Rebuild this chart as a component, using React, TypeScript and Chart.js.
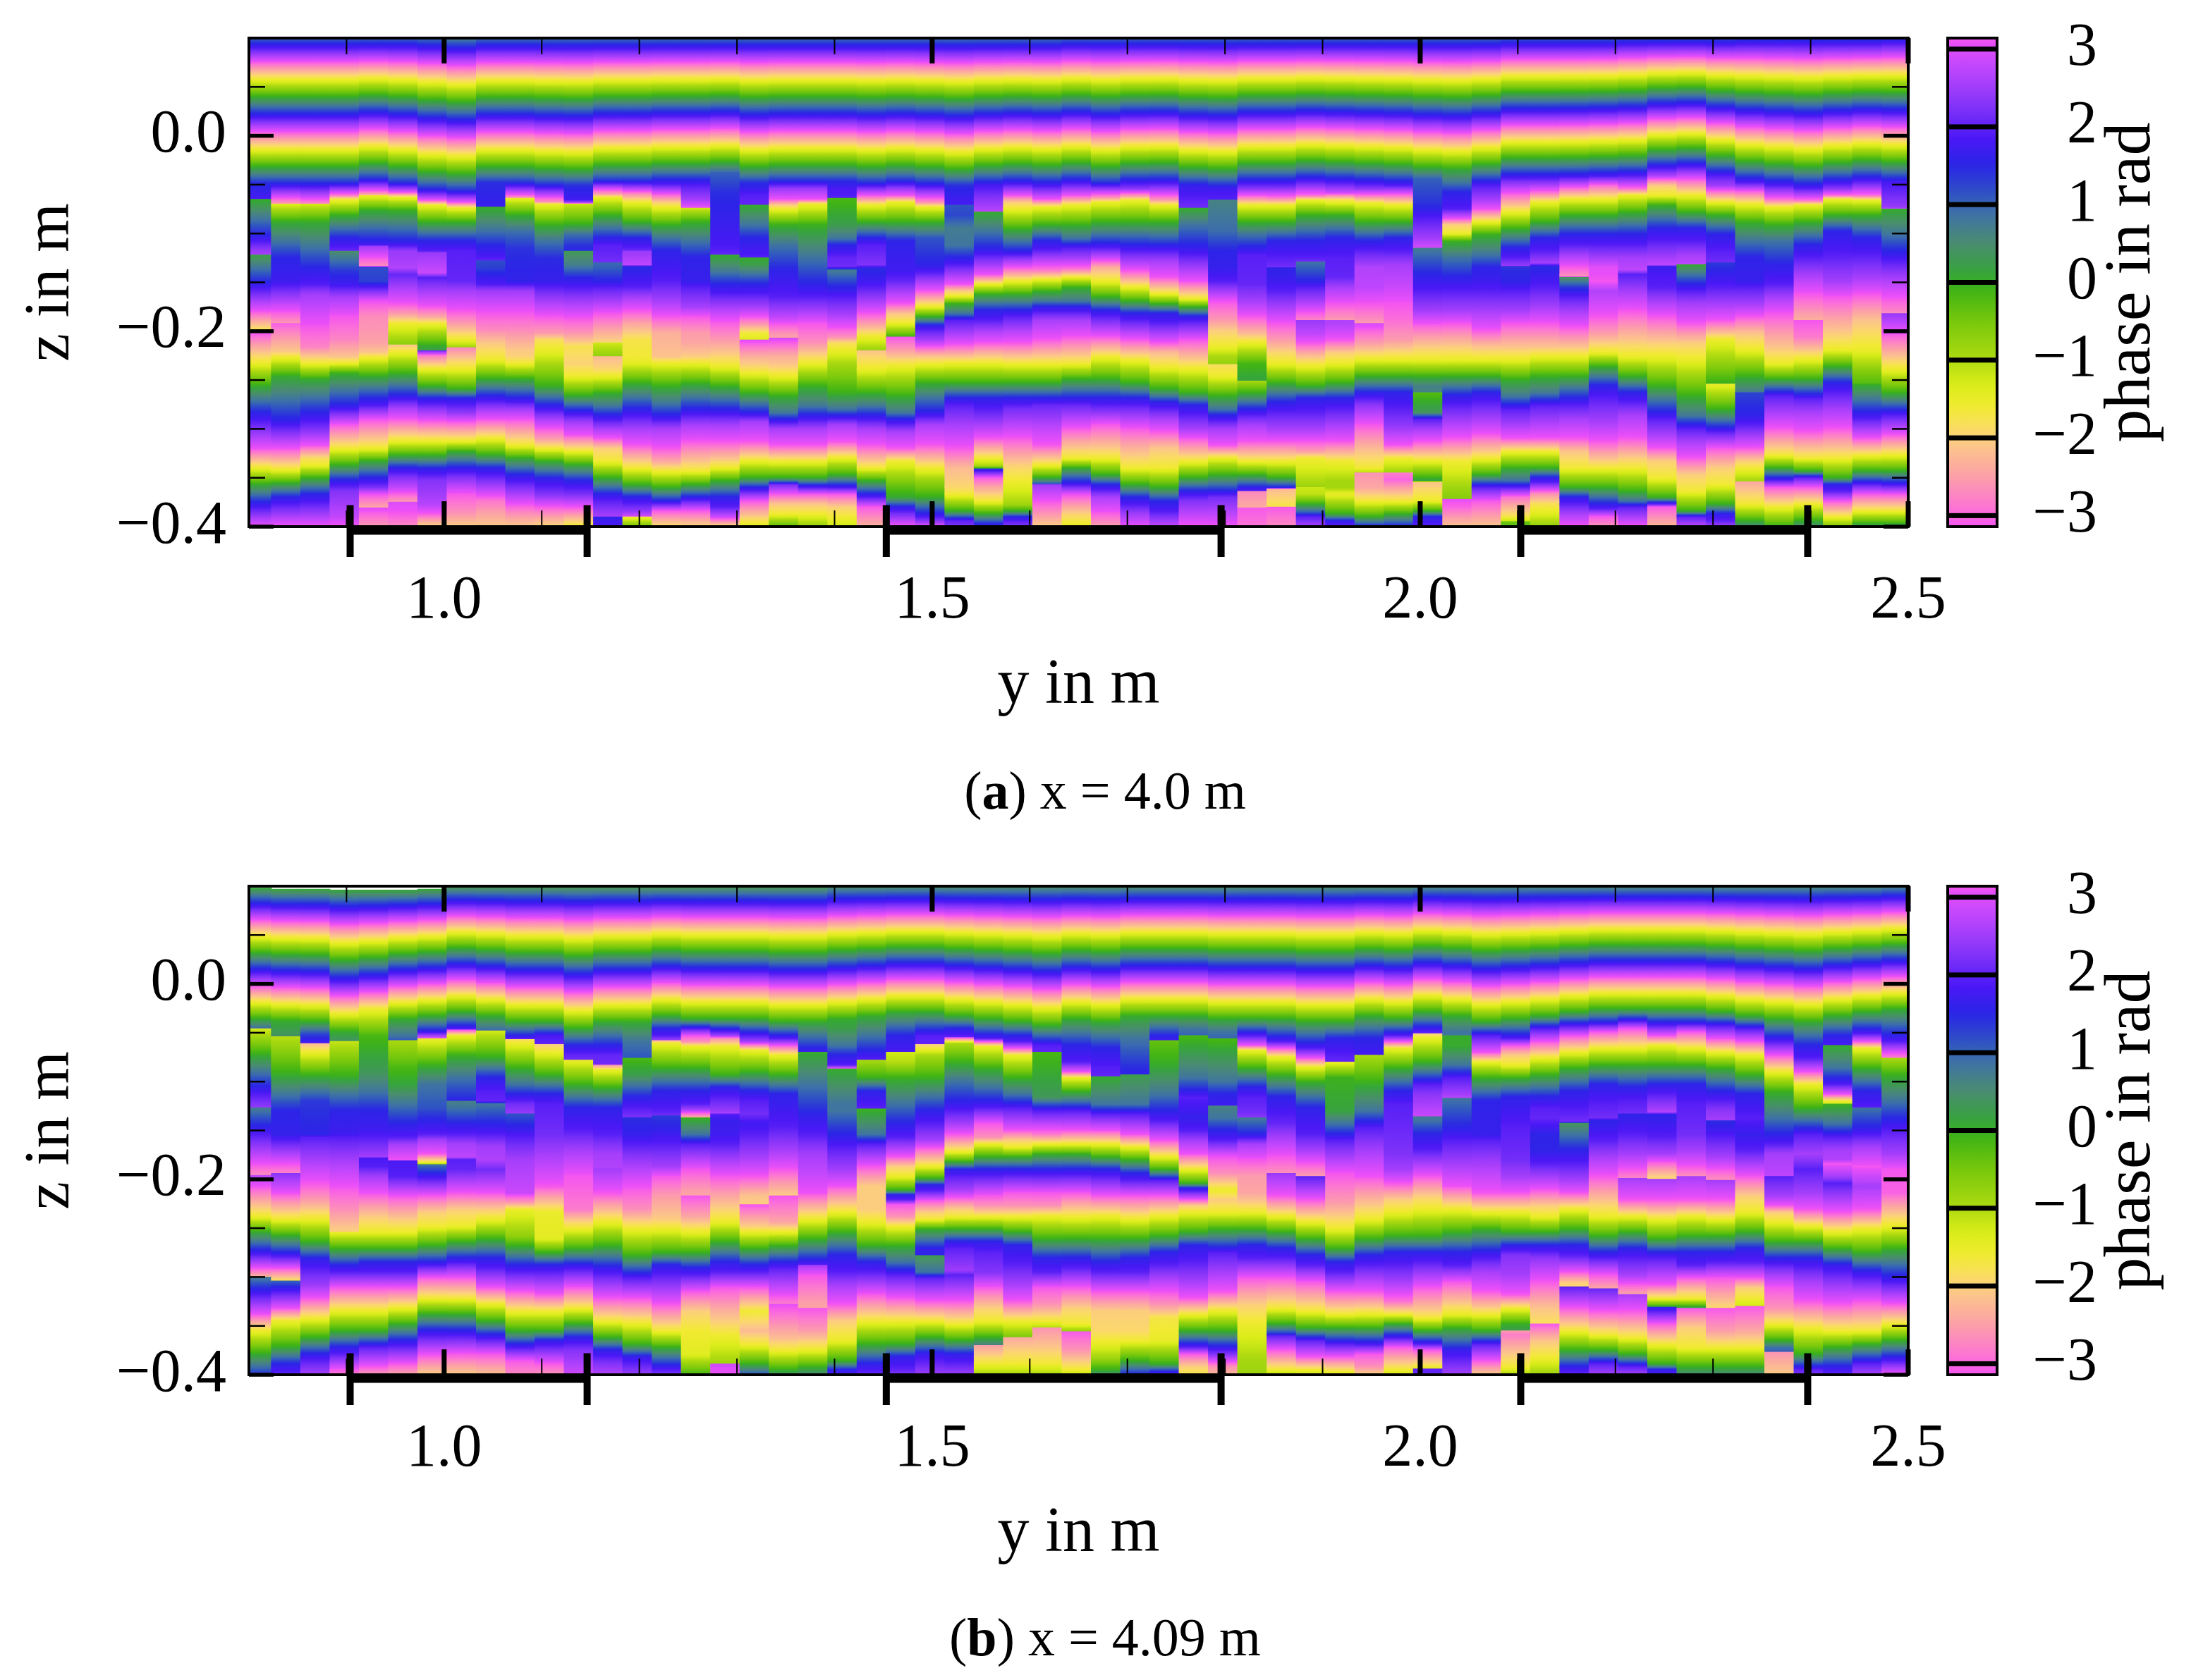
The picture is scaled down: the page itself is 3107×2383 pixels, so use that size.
import { useEffect, useRef } from 'react'
import Chart from 'chart.js/auto'

const FONT = 'Liberation Serif'

// column centres along y, in m
const yColumns = [
  0.808, 0.838, 0.868, 0.898, 0.928, 0.958, 0.988, 1.018, 1.048, 1.078, 1.108, 1.138, 1.168, 1.198, 1.228, 1.258, 1.288, 1.318, 1.348,
  1.378, 1.408, 1.438, 1.468, 1.498, 1.528, 1.558, 1.588, 1.618, 1.648, 1.678, 1.708, 1.738, 1.768, 1.798, 1.828, 1.858, 1.888, 1.918,
  1.948, 1.978, 2.008, 2.038, 2.068, 2.098, 2.128, 2.158, 2.188, 2.218, 2.248, 2.278, 2.308, 2.338, 2.368, 2.398, 2.428, 2.458, 2.488,
]

// one row per column: z in mm, phase in rad, z, phase, ...
// phase is unwrapped down a column so one ramp can run through several cycles, a repeated z is a jump
const phaseA = [
  [100,1,-48,14,-65,14.4,-65,0,-101,1.5,-117,2.4,-122,2.6,-122,0.2,-149,1.5,-179,3.1,-201,4.7,-201,3.1,-232,4.7,-256,6.3,-283,7.8,-320,9.4,-340,11,-357,12.6,-375,14.1,-400,15.7],
  [100,1,-48,14,-70,16.4,-70,4.9,-88,6.3,-125,7.8,-149,8,-179,9.4,-192,10,-192,9.5,-221,10.5,-227,11,-246,12.6,-290,14.1,-320,15.7,-342,17.3,-355,18.8,-370,20.4,-400,22],
  [100,1,-48,14,-70,16.2,-70,5,-88,6.3,-135,7.8,-152,8.2,-162,8.8,-192,9.4,-216,9.8,-226,10.5,-233,11,-249,12.6,-283,14.1,-300,14.8,-317,15.7,-330,17,-337,17.3,-350,18.8,-367,20.4,-380,21,-400,22],
  [100,1,-48,14,-61,16,-65,17.2,-81,18.8,-105,20.4,-115,20.8,-118,20.9,-118,19.3,-138,20.2,-152,20.6,-165,21.4,-185,22,-209,22.4,-226,23,-233,23.6,-243,25.1,-276,26.7,-296,28.3,-320,29.8,-337,31.4,-353,33,-364,33.7,-390,34.2,-400,34.6],
  [100,1,-44,14,-56,15.7,-61,16.6,-61,-1.6,-76,0,-112,1.8,-113,2.5,-133,3.6,-135,1.2,-149,1.3,-155,1.9,-169,3.1,-185,3.6,-212,3.8,-222,4.2,-227,4.7,-246,6.3,-269,7.8,-276,8.2,-290,9.4,-320,11,-333,12.6,-350,14.1,-360,14.8,-367,15.7,-380,16.4,-381,15.6,-400,16.3],
  [100,1,-48,14,-58,15.7,-63,17.3,-76,18.8,-108,20.4,-112,20.7,-118,21.3,-135,21.5,-142,20.9,-155,21.4,-172,22,-182,22.6,-193,23.6,-212,24.4,-214,24.4,-214,23,-222,23.6,-243,25.1,-266,26.7,-279,27.7,-290,28.3,-313,29.9,-327,31.4,-340,33,-350,33.7,-360,34.2,-375,35.2,-375,34.4,-387,34.6,-400,35],
  [100,0.9,-54,14,-66,15.7,-71,17.3,-88,18.8,-108,20.4,-118,20.8,-120,21.3,-140,21.7,-145,20.8,-159,21.4,-175,22,-185,22.7,-193,23.6,-214,25.1,-220,25.4,-220,21,-225,22.3,-239,23.6,-256,25.1,-269,26.7,-280,27.5,-292,28.3,-313,29.9,-327,31.4,-341,33,-353,33.7,-377,34.1,-387,34.6,-400,35.8],
  [100,0.7,-56,14,-68,15.7,-74,17.3,-88,18.8,-108,20.4,-118,20.8,-149,20.9,-159,21.4,-179,22,-192,22.6,-209,23.6,-217,24.3,-217,22.4,-229,23.1,-239,23.6,-259,25.1,-269,26.7,-283,27.5,-293,28.3,-313,29.9,-323,31.4,-340,33,-350,33.7,-367,34.6,-387,35.1,-400,35.7],
  [100,0.9,-48,14,-70,14.2,-73,14.3,-73,0,-98,0.9,-112,1.5,-125,1.9,-128,2,-128,1.2,-135,1.3,-152,1.9,-159,2.5,-179,3.1,-199,3.6,-212,4.2,-229,4.7,-249,6.3,-266,7.8,-280,8.8,-290,9.4,-310,11,-327,12.6,-340,14.1,-353,14.8,-374,16,-400,16.8],
  [100,0.9,-48,14,-61,15.8,-64,16.4,-64,-1.5,-81,0,-98,0.9,-115,1.4,-149,1.6,-159,2.5,-179,3.1,-199,3.6,-219,4.2,-226,4.3,-233,4.7,-249,6.3,-268,7.8,-280,8.8,-290,9.4,-317,11,-330,12.6,-347,14.1,-360,14.8,-377,15.7,-387,16.2,-400,16.8],
  [100,0.9,-50,14,-68,16.3,-70,17.3,-91,18.8,-108,19.7,-125,20.3,-149,20.5,-155,20.8,-169,21.4,-185,22,-202,22.6,-209,23.3,-222,23.7,-256,25.1,-276,26.7,-290,27.7,-300,28.3,-310,28.9,-320,29.8,-333,31.4,-351,33,-367,33.7,-380,34.6,-400,35.8],
  [100,0.9,-51,14,-65,14.3,-68,15,-70,16.5,-70,-1.2,-91,0,-101,0.9,-112,1.4,-118,1.5,-118,0.3,-132,0.7,-145,1.5,-155,1.9,-169,2.5,-185,3.1,-202,3.7,-216,4.5,-233,4.3,-246,4.7,-266,6.3,-281,7.8,-293,8.8,-306,9.4,-323,11,-337,12.6,-353,14.1,-367,14.8,-384,16,-400,17.3],
  [100,0.9,-46,14,-54,15.5,-60,16.4,-63,17.3,-81,18.8,-105,20.4,-112,20.8,-130,21,-130,19.8,-135,19.9,-149,20.4,-155,20.8,-169,21.4,-182,22,-199,22.7,-212,23.2,-212,23.9,-226,24.4,-226,22.9,-239,23.2,-246,23.6,-263,25.1,-276,25.9,-286,26.7,-300,27.7,-310,28.3,-320,29.4,-333,29.8,-350,31.4,-367,33,-374,33.4,-390,34,-390,33,-400,33.3],
  [100,0.9,-46,14,-60,16.2,-68,17.3,-88,18.8,-105,20.4,-115,20.8,-118,21,-118,21.3,-132,21.6,-134,20.3,-142,20.5,-155,20.8,-165,21.4,-179,22,-192,22.7,-209,23.4,-226,23.5,-233,23.7,-253,25.1,-280,26.7,-300,27.7,-317,28.3,-327,29,-340,29.8,-357,31.4,-370,33,-384,33.8,-390,34.4,-390,29.8,-400,31],
  [100,0.9,-44,14,-50,14.5,-58,15.5,-68,16.8,-73,17.3,-91,18.8,-105,19.7,-118,20.4,-149,20.8,-169,21.4,-185,22,-202,22.8,-226,23,-233,23.6,-256,25.1,-273,25.9,-286,26.7,-300,27.7,-320,28.3,-333,29,-343,29.8,-360,31.4,-374,33,-384,34.6,-400,35.9],
  [100,0.9,-44,14,-51,14.5,-65,15.1,-74,15.7,-74,17.6,-88,18.8,-108,19.7,-125,20.4,-149,20.5,-155,20.8,-175,21.4,-185,22,-202,22.6,-212,22.7,-226,23.1,-233,23.6,-253,25.1,-280,26.7,-296,27.7,-313,28.3,-327,29,-343,29.8,-357,31.4,-370,33,-384,34.6,-400,35.8],
  [100,0.9,-38,13.6,-58,14,-112,14.4,-122,14.6,-122,12.6,-138,13.3,-152,14.1,-162,14.5,-175,15.1,-189,15.7,-209,16.3,-226,16.9,-236,17.3,-256,18.8,-280,20.4,-296,21.4,-313,22,-327,22.8,-340,23.6,-353,25.1,-370,26.7,-380,27.1,-390,28,-400,29.6],
  [100,0.9,-48,14,-61,14.5,-68,14.6,-71,14.6,-71,12.6,-91,13.4,-105,14.1,-125,14.5,-125,12.6,-132,12.8,-152,14.1,-162,14.5,-175,15.1,-185,15.7,-192,16.2,-202,17.2,-209,17.5,-209,15.6,-228,16.6,-236,16.9,-243,17.3,-263,18.8,-283,20.4,-293,21.4,-313,22,-333,23.6,-350,25.1,-360,26.7,-374,28.3,-384,29,-396,29.8,-400,30],
  [100,0.9,-46,14,-54,15,-65,15.7,-71,16.8,-75,17.3,-91,18.8,-112,19.7,-138,20.4,-165,20.8,-185,21.6,-202,22.5,-207,22.7,-207,21.8,-226,22.8,-236,23.1,-246,23.6,-266,25.1,-283,25.9,-290,26.7,-300,27.7,-317,28.3,-333,29.8,-350,31.4,-355,32.8,-357,33.6,-367,34.6,-377,35.6,-387,36.1,-400,37.5],
  [100,0.9,-46,14,-54,15,-65,15.7,-70,17.3,-75,17.6,-91,18.8,-125,19.7,-152,20.4,-165,20.8,-179,21.4,-192,22,-212,22.5,-233,23.6,-256,25.1,-276,25.9,-286,26.7,-300,27.7,-317,28.3,-333,29.8,-350,31.4,-358,33,-367,34.6,-377,35.6,-387,36.1,-400,37],
  [100,0.9,-46,14,-54,14.4,-64,14.5,-64,12.4,-91,12.8,-105,13.4,-112,14.1,-125,14.6,-134,14.7,-138,13.3,-155,14.1,-165,14.5,-182,15.1,-196,15.7,-206,16.2,-212,17,-233,17.9,-263,18.8,-280,19.7,-286,20.4,-296,21.4,-313,22,-330,23.6,-347,25.1,-360,27,-367,28.3,-380,29.4,-390,29.8,-400,30.2],
  [100,0.9,-48,14,-54,14.8,-61,15.7,-71,17.3,-88,18.8,-105,20.4,-112,20.8,-125,21,-132,21.1,-136,20.3,-149,20.6,-155,20.8,-169,21.4,-182,22,-192,22.6,-206,23.6,-219,24.3,-220,24.4,-220,23,-239,23.6,-263,25.1,-276,25.9,-286,26.7,-300,27.7,-317,28.3,-340,29.8,-353,31.4,-367,33,-380,34.6,-400,35.4],
  [100,0.9,-46,14,-54,15,-61,15.7,-68,17.3,-88,18.8,-108,20.4,-138,20.6,-149,20.9,-159,21.4,-172,22,-182,23,-192,23.6,-206,25.1,-206,22,-219,22.6,-236,23.6,-266,25.1,-283,25.9,-290,26.7,-303,27.7,-320,28.3,-333,29.8,-357,31,-370,31.5,-380,33,-387,33.6,-400,34.6],
  [100,0.9,-48,14,-58,15.1,-68,16.2,-73,17.3,-88,18.8,-105,20,-132,20.4,-140,20.8,-149,21.4,-159,22,-169,23,-175,23.6,-185,25.1,-194,26.7,-199,27.1,-209,27.7,-216,28.3,-226,29.3,-233,29.8,-253,31.4,-269,32.3,-283,33,-296,34,-317,34.6,-340,36.1,-353,36.9,-370,37.7,-379,38.6,-387,39.3,-394,40,-400,40.8],
  [100,0.9,-51,14,-71,14.4,-71,13.7,-81,13.8,-95,13.3,-112,13.4,-125,14.1,-132,14.5,-142,15.1,-152,15.7,-159,16.8,-164,17.3,-172,18.8,-182,19.7,-189,20.8,-202,21.4,-214,22,-226,23,-233,23.6,-253,25.1,-269,26.7,-276,27.1,-296,27.7,-320,28.3,-340,29.2,-360,29.5,-367,29.8,-384,31.4,-394,33.4,-400,33.7],
  [100,0.9,-51,14.4,-65,14.9,-75,15.2,-78,15.3,-78,12.6,-98,13.4,-115,14.1,-122,14.5,-132,15.1,-142,15.7,-152,17.3,-162,18.8,-179,20.4,-189,20.8,-199,21.4,-212,22,-222,22.8,-233,23.6,-253,25.1,-269,26.7,-286,27.3,-310,28.3,-330,29.8,-338,30.5,-341,31.8,-341,32.9,-350,34.6,-360,35.3,-374,36.1,-387,37.7,-397,39.2,-400,39.5],
  [100,0.9,-48,14.3,-61,15.7,-68,16.8,-75,17.3,-95,18.8,-108,19.7,-118,20.4,-128,21.4,-135,22,-149,23.6,-162,25.1,-179,26.7,-185,27.1,-202,27.9,-212,28.3,-233,29.8,-253,31.4,-269,33,-280,33.6,-310,34.6,-337,35.7,-353,36.1,-377,36.8,-384,37.7,-390,39.2,-395,39.7,-400,40],
  [100,0.9,-51,14.4,-65,15.7,-73,17.3,-91,18.8,-108,20.4,-117,20.8,-125,21.4,-138,22.3,-147,23.6,-159,25.1,-169,25.9,-175,26.7,-189,27.7,-209,28.3,-233,29.8,-253,31.4,-269,33,-276,33.5,-300,34.2,-317,34.6,-337,36.1,-350,37.7,-357,39,-357,33.9,-387,35.1,-400,35.7],
  [100,1,-48,14.4,-61,15.7,-71,17.3,-91,18.8,-105,19.7,-115,20.8,-125,21.4,-136,22.2,-145,23.6,-155,25.1,-169,25.9,-175,26.7,-189,27.7,-206,28.3,-233,29.8,-249,31.4,-269,33,-276,33.5,-300,34.6,-323,35.8,-330,36.1,-340,37.7,-348,38.6,-354,39.2,-367,40.8,-387,42,-397,42.4,-400,42.6],
  [100,1,-48,14,-54,14.9,-63,16.2,-68,17.3,-88,18.8,-101,19.7,-115,20.8,-128,22,-135,22.8,-149,23.6,-165,25.1,-179,26.7,-185,27.1,-206,28.3,-226,29.8,-249,31.4,-269,33,-280,33.6,-296,34.6,-310,35.2,-330,36.1,-347,37.7,-357,39.2,-362,39.6,-370,40.3,-384,40.8,-400,41.5],
  [100,1,-54,14.9,-61,16.2,-66,17.3,-88,18.8,-101,19.7,-118,20.8,-128,21.4,-138,22,-149,23,-155,23.6,-169,25.1,-182,26.7,-189,27.1,-209,28.3,-229,29.8,-253,31.4,-269,33,-280,33.6,-300,34.6,-320,35.4,-340,36.1,-357,37.7,-370,39.2,-377,39.6,-387,40.2,-400,40.8],
  [100,1,-48,14.4,-54,15,-65,16.2,-71,17.3,-88,18.8,-105,19.9,-118,20.8,-128,21.4,-145,22,-162,23.6,-172,25.1,-182,26.7,-192,27.1,-212,28.3,-222,29.2,-236,29.8,-259,31.4,-273,33,-283,33.6,-290,34,-303,34.6,-320,35.6,-340,36.1,-360,37.7,-374,39.2,-384,39.6,-394,40.2,-400,40.5],
  [100,1,-51,14.2,-68,14.6,-74,14.7,-74,12.6,-91,13.4,-112,14.1,-122,14.5,-135,15.1,-149,15.7,-167,17.3,-175,18.8,-185,20.4,-190,20.8,-209,22,-222,22.7,-239,23.6,-263,25.1,-276,26.7,-286,27.1,-300,27.7,-310,28.3,-333,29.8,-350,31.4,-364,33,-374,33.7,-400,34.6],
  [100,1,-54,14.3,-65,14.5,-66,13.2,-98,13.5,-118,14.1,-135,14.2,-149,14.5,-169,15.7,-189,16.3,-199,16.8,-216,17.3,-226,17.9,-234,18.1,-234,17,-246,17.3,-266,18.8,-280,19.7,-286,20.4,-300,21.4,-317,22,-330,23.6,-347,25.1,-364,26.7,-370,27.3,-400,28.3],
  [100,1,-54,14.9,-61,15.7,-71,17.3,-88,18.8,-101,19.7,-122,20.8,-152,20.9,-169,21.4,-185,22,-202,22.9,-212,23.6,-233,25,-251,25.3,-251,24.2,-263,25.1,-280,26.7,-286,27.1,-296,27.7,-313,28.3,-333,29.8,-347,31.4,-360,33,-364,33.3,-364,35,-380,35.3,-381,34.6,-400,34.8],
  [100,1,-54,14.9,-63,15.9,-71,17.3,-88,18.8,-108,20.4,-125,20.8,-135,21,-135,20.4,-145,20.5,-159,20.8,-175,21.4,-192,22,-209,22.6,-222,23.2,-233,23.6,-253,25.1,-273,26.7,-283,27.1,-300,27.7,-313,28.3,-333,29.8,-350,31.4,-360,33,-362,35.5,-380,36,-380,34.6,-400,35],
  [100,1,-51,14.9,-61,15.9,-66,17.3,-81,18.8,-108,20.4,-125,20.8,-129,21,-129,19.7,-138,20,-149,20.4,-155,20.8,-169,21.4,-189,22.4,-189,21.3,-202,21.6,-212,22,-226,23,-236,23.6,-256,25.1,-269,26.7,-283,27.1,-300,27.7,-313,28.3,-323,28.9,-330,29.8,-360,30.6,-360,30.2,-367,30.3,-377,31.4,-386,32.6,-390,33.4,-400,34],
  [100,1,-58,15.4,-65,17,-81,18.8,-105,20.4,-125,20.8,-145,20.9,-155,21.4,-172,22,-189,22.6,-189,21.5,-192,21.5,-209,22,-222,23.1,-233,23.6,-253,25.1,-269,26.7,-280,27.1,-296,27.7,-313,28.3,-333,29.8,-353,30.5,-360,30.5,-367,29.9,-387,31.4,-394,33,-400,33.5],
  [100,1,-54,14.9,-61,15.9,-69,17.3,-88,18.8,-108,20.4,-122,21,-135,21.5,-155,21.6,-172,22,-189,22.5,-192,22.6,-192,21.8,-212,22.6,-229,23.6,-246,25.1,-263,26.7,-276,27.5,-296,28.3,-323,29.3,-340,29.8,-345,30.4,-345,28.8,-360,29,-374,29.8,-390,31.4,-400,33],
  [100,1,-51,14.5,-61,15.9,-71,17.3,-88,18.8,-105,20.4,-118,20.8,-132,21.4,-155,21.7,-172,22,-189,22.2,-209,22.6,-229,23.6,-246,25.1,-263,26.7,-296,27.5,-317,28.3,-330,29.8,-345,30.6,-345,28.6,-352,28.4,-374,29.8,-387,31.4,-400,33],
  [100,1,-44,13.6,-71,14,-85,14.5,-105,15.1,-115,15.5,-115,13.3,-118,13.4,-142,14.1,-159,14.5,-179,15.1,-192,15.7,-216,16.8,-229,17.3,-246,18.8,-256,19.5,-263,19.5,-263,18.6,-283,19.2,-290,20.8,-300,21.4,-313,22,-333,23.6,-350,25.1,-353,25.3,-355,23,-374,23.6,-384,25.1,-390,26.7,-400,27.1],
  [100,1,-34,12.6,-48,13.4,-58,14.1,-75,14.5,-85,15.7,-91,16.8,-100,17.3,-108,18.8,-125,19.7,-145,20.4,-159,20.8,-179,21.4,-192,22,-216,23.1,-229,23.6,-246,25.1,-266,26.7,-276,27.1,-293,27.7,-310,28.3,-333,29.8,-362,30.6,-372,30.8,-372,28.2,-380,28.4,-400,29.3],
  [100,1,-51,14.5,-65,15.1,-75,15.7,-88,17.3,-101,18.8,-122,19.7,-135,20.4,-145,20.5,-159,20.8,-179,21.4,-199,22,-216,23,-229,23.6,-246,25.1,-263,26.7,-273,27.1,-290,27.7,-306,28.3,-330,29.8,-347,31.4,-360,33.4,-374,34.6,-400,35.6],
  [100,1.1,-48,14.9,-61,15.9,-78,17.3,-95,18.8,-115,20.4,-125,20.8,-133,21.3,-134,20.2,-138,20.3,-149,20.4,-159,20.8,-179,21.4,-192,22,-216,23,-229,23.6,-249,25.1,-266,25.9,-280,27.1,-296,27.7,-310,28.3,-323,29.8,-340,31.4,-353,32.3,-360,33.4,-370,34.8,-390,36,-395,36.6,-395,31,-400,31.2],
  [100,1.1,-48,14.9,-58,15.9,-68,17.3,-88,18.8,-105,20.4,-118,20.8,-130,21.4,-134,20.3,-142,20.5,-155,20.8,-175,21.4,-192,22,-216,23,-226,23.6,-246,25.1,-263,25.9,-276,27.1,-293,27.7,-310,28.3,-323,29.8,-340,31.4,-350,33,-355,33.4,-367,35.1,-377,35.9,-387,36.3,-400,37],
  [100,1.1,-41,14.3,-54,15.9,-65,17.3,-81,18.8,-101,20.4,-112,20.8,-122,21.4,-142,22.4,-144,22.6,-145,19.2,-155,20.2,-165,20.8,-179,21.4,-196,22,-216,23,-226,23.6,-246,25.1,-269,26.7,-276,27.1,-290,27.7,-310,28.3,-323,29.3,-340,29.8,-360,31.4,-370,33,-377,33.4,-387,34,-400,34.6],
  [100,1.1,-41,14.4,-51,15.9,-65,17.3,-81,18.8,-101,20.4,-112,20.8,-125,21.4,-135,21.9,-149,22,-159,21.5,-185,22,-202,22.6,-222,23.6,-236,25.1,-256,26.7,-269,27.1,-293,27.7,-313,28.3,-340,29.8,-360,31.4,-377,33,-382,33.4,-390,34.6,-400,35.1],
  [100,1.2,-41,14.5,-54,15.9,-61,17.3,-78,18.8,-101,20.4,-112,20.8,-125,21.4,-137,21.6,-142,20.8,-159,21.4,-179,22,-202,22.8,-226,23.6,-246,25.1,-263,26.7,-273,27.1,-286,27.7,-310,28.3,-330,29.4,-340,29.8,-364,31.4,-374,32.3,-380,33.4,-390,34,-400,34.6],
  [100,1.2,-41,15.2,-51,16.8,-61,17.3,-71,18.8,-95,20.4,-108,20.8,-125,21.4,-132,21.6,-134,20.5,-142,20.7,-155,20.8,-169,21.4,-185,22,-212,23.1,-226,23.6,-256,25.1,-269,25.9,-290,27.1,-306,27.7,-320,28.3,-333,29.4,-350,29.8,-370,31.4,-377,33.4,-380,34.6,-396,35.3,-400,35.5],
  [100,1.2,-41,15.4,-61,17.3,-78,18.8,-95,20.4,-108,20.8,-122,21.4,-132,21.6,-132,18.9,-138,19.4,-152,20.4,-159,20.8,-172,21.4,-192,22,-212,23.1,-229,23.6,-266,25.1,-286,25.9,-300,27.1,-313,27.7,-330,28.3,-347,29.4,-364,29.8,-384,31.4,-390,33.4,-400,34.2],
  [100,1.2,-41,14.5,-51,15.1,-68,17.3,-81,18.8,-101,20.4,-118,20.8,-130,21,-130,20.2,-135,20.3,-155,20.8,-172,21.4,-189,22,-202,23,-209,23.6,-233,24.4,-253,25.1,-254,25.2,-254,23.6,-280,25.1,-290,25.9,-299,26.7,-303,27.1,-320,28.3,-340,29.4,-357,29.8,-377,31.4,-387,33,-394,33.4,-400,34],
  [100,1.3,-48,14.5,-58,15.9,-70,17.3,-88,18.8,-108,19.7,-125,20.4,-149,20.5,-155,20.8,-172,21.4,-185,22,-202,23,-219,23.6,-246,25.1,-263,25.9,-263,26.4,-286,26.7,-296,27.1,-320,28.3,-333,29.4,-353,30.5,-354,30.6,-354,29,-360,29.2,-377,29.8,-394,31.4,-400,32],
  [100,1.3,-51,14.5,-65,15.9,-73,17.3,-91,18.8,-108,19.7,-132,20.4,-152,20.8,-165,21.4,-182,22,-202,22.6,-222,23.2,-233,23.6,-249,25.1,-266,27.1,-283,27.7,-300,28.3,-320,29.4,-327,29.8,-340,31.4,-353,33.4,-360,34.6,-380,36.1,-400,37.7],
  [100,1.3,-54,14.5,-66,15.9,-71,17.3,-88,18.8,-112,20.4,-125,20.8,-142,21.4,-162,22,-185,22.7,-189,22.8,-189,22,-206,22.3,-212,22.6,-229,23.6,-249,25.1,-269,27.1,-283,27.7,-303,28.3,-330,29.8,-343,31.4,-350,33.4,-360,34.6,-377,36.1,-394,37.7,-400,38.2],
  [100,1.3,-54,14.9,-61,15.9,-65,17.3,-81,18.8,-98,20.4,-122,20.8,-149,21.4,-165,22,-192,22.8,-206,23.2,-219,23.6,-236,25.1,-253,26.7,-263,27.1,-280,27.7,-300,28.3,-330,29.8,-350,31.4,-357,33,-364,33.4,-374,34.6,-390,36.1,-400,37.2],
  [100,1.3,-51,14.9,-61,15.9,-66,17.3,-81,18.8,-105,20.4,-122,20.8,-145,21.4,-162,22,-189,23,-219,23.6,-243,24.6,-254,24.9,-254,25.1,-269,25.9,-290,27.1,-310,28.3,-327,29.8,-343,31.4,-357,33.4,-367,34.6,-384,36.1,-397,37.7,-400,38],
  [100,1.4,-48,14.4,-73,15,-75,15.4,-75,12.6,-101,13.4,-128,14.5,-145,15.1,-165,15.7,-180,16.1,-182,16.2,-182,15,-202,15.7,-219,16.4,-239,17.3,-263,18.8,-286,20.8,-306,22,-327,23.6,-343,25.1,-367,28.3,-384,29.8,-397,31.4,-400,31.7],
]

const phaseB = [
  [98,0.1,-36,12.6,-46,13.5,-46,5,-73,6.3,-90,7.1,-113,8.2,-127,8.7,-127,7,-154,8.2,-184,9.4,-196,9.9,-196,9,-207,9.4,-238,11,-254,12.6,-275,14.3,-291,15.7,-300,16.6,-300,7,-318,8.2,-338,9.4,-355,11,-379,12.6,-400,14],
  [97,0.1,-38,12.6,-54,13,-54,5.2,-93,6.3,-113,7.1,-130,7.8,-154,7.9,-160,8.2,-184,9.4,-194,9.8,-194,8.6,-214,9.4,-241,11,-258,12.6,-275,14.1,-291,15.7,-303,17,-304,17.2,-304,7.3,-315,8.2,-332,9.4,-345,11,-372,12.6,-389,14.1,-400,14.6],
  [97,0.1,-39,12.6,-51,13.8,-61,14.4,-61,16.6,-70,17.3,-93,18.8,-120,20.2,-154,20.4,-157,20.8,-187,21.6,-204,22,-221,22.6,-241,23.6,-264,25.1,-281,26.7,-298,27.3,-308,27.6,-322,28.3,-342,29.8,-362,31.4,-379,33,-386,33.4,-400,34],
  [96,0.1,-49,12.6,-59,13,-59,11.4,-96,12.6,-113,13.4,-130,14.1,-154,14.3,-157,14.5,-180,15.1,-207,15.7,-231,16.2,-251,16.8,-254,16.8,-254,17.3,-271,18.8,-288,20.4,-295,20.8,-311,22,-335,23.6,-355,25.1,-372,26.7,-379,27.1,-395,28.3,-400,28.6],
  [96,0.1,-26,11,-53,12.4,-90,12.9,-110,13.4,-130,14.1,-150,14.3,-157,14.5,-177,15.1,-178,15.2,-178,14.4,-187,14.5,-197,15.1,-214,15.7,-238,16.8,-254,17.3,-271,18.8,-285,20.4,-295,20.8,-311,22,-335,23.6,-355,25.1,-372,27.1,-392,28.3,-400,28.9],
  [96,0.1,-36,12.6,-53,13.4,-58,13.7,-58,11.6,-86,12.4,-103,12.7,-123,13.4,-143,14.1,-157,14.5,-164,15.1,-180,15.7,-181,15.8,-181,14.4,-197,14.5,-217,15.7,-241,16.8,-254,17.3,-271,18.8,-285,20.4,-295,20.8,-311,22,-332,23.6,-348,25.1,-365,26.7,-389,28.3,-400,29],
  [97,0.1,-33,12.6,-48,14.1,-53,15.1,-56,15.7,-56,17.3,-83,18.8,-103,19.7,-127,20,-140,20.4,-154,20.8,-160,21.4,-174,22,-183,23.6,-185,24.4,-185,26,-197,26.9,-217,28.3,-234,29.4,-248,29.8,-268,31.4,-285,33,-301,34.6,-322,36.1,-338,37.7,-355,39.3,-379,40.8,-400,42],
  [99,0.3,-29,12.6,-43,14.1,-47,14.6,-47,15.6,-53,17.3,-73,18.8,-96,19.7,-113,20.2,-120,20.4,-120,19.5,-127,19.7,-143,20.4,-154,20.8,-164,21.4,-177,21.6,-180,20.8,-190,20.9,-214,22,-231,23.1,-248,23.6,-264,25.1,-281,26.7,-301,28.3,-322,29.8,-338,31.4,-355,33,-379,34.6,-400,35.7],
  [99,0.3,-33,12.6,-46,13.4,-48,13.6,-48,11.3,-53,11.5,-76,12.6,-96,14.1,-110,14.5,-120,14.6,-123,13.4,-143,14.1,-154,14.5,-167,15.1,-180,15.2,-190,14.7,-214,15.7,-231,16.8,-241,17.3,-261,18.8,-281,20.4,-291,20.8,-311,22,-328,23.6,-345,25.1,-359,26.7,-379,28.3,-400,29.3],
  [99,0.3,-39,12.6,-53,14.1,-57,14.7,-57,17,-61,17.3,-86,18.8,-103,19.7,-113,20.4,-123,21,-133,21.3,-133,20,-140,20.2,-157,20.8,-180,21.4,-214,21.7,-217,22,-224,22.6,-231,23.6,-234,23.7,-258,24.4,-268,25.1,-288,26.7,-295,27.1,-315,28.3,-335,29.8,-355,31.4,-369,33,-386,34.6,-400,35],
  [99,0.3,-39,12.6,-53,14.4,-62,14.6,-62,16.8,-70,17.3,-93,18.8,-113,20.4,-123,20.8,-154,21,-174,21.4,-207,22,-234,23.6,-261,23.7,-275,25.1,-288,26.7,-295,27.1,-318,28.3,-335,29.8,-355,31.4,-365,33,-389,34.6,-400,35.1],
  [99,0.3,-46,12.6,-63,14.1,-73,14.6,-78,14.7,-78,17.3,-103,18.8,-127,20.4,-150,20.8,-170,21.4,-197,22,-231,22.3,-241,23,-251,23.6,-271,25.1,-288,26.8,-311,28.3,-332,29.8,-348,31.4,-362,33,-375,33.7,-400,34.3],
  [99,0.3,-39,12.6,-63,14.1,-73,14.6,-83,14.7,-83,16.2,-88,17.3,-106,18.8,-127,20.4,-154,20.8,-174,21.4,-187,21.5,-190,21.4,-214,22,-244,23.6,-268,25.1,-291,26.8,-322,28.3,-345,29.8,-362,31.4,-375,33,-389,33.7,-400,34.1],
  [99,0.3,-39,12.6,-59,13.4,-76,13.7,-76,12.4,-93,12.8,-116,14.1,-130,14.6,-137,14.8,-137,14,-154,14.2,-164,14.5,-184,15.1,-207,15.7,-231,16.2,-251,17.3,-278,18.8,-301,20.8,-322,22,-348,23.6,-369,25.1,-382,26.8,-400,27.6],
  [99,0.3,-33,12.6,-46,14.1,-53,14.5,-58,15.1,-58,16.6,-61,17.3,-86,18.8,-110,20.4,-130,20.8,-135,21,-135,20.2,-147,20.4,-164,20.8,-187,21.4,-197,22,-217,22.6,-241,23.1,-251,23.6,-275,25.1,-288,26.7,-298,27.1,-328,28.3,-355,29.8,-372,31.4,-392,33.1,-400,33.7],
  [99,0.3,-36,12.6,-46,14.5,-53,15.7,-59,16.2,-64,17.3,-86,18.8,-110,20.4,-123,20.8,-128,21.3,-135,22.5,-137,22.8,-137,18.8,-154,19.7,-164,20.8,-190,22,-211,22.6,-217,22.7,-217,22,-238,22.7,-254,23.6,-275,25.1,-291,26.7,-298,27.1,-315,28.3,-335,29.4,-355,29.8,-379,30,-395,31,-400,31.3],
  [99,0.3,-36,12.6,-46,14.1,-53,15.1,-56,16.2,-64,17.3,-93,18.8,-106,20.4,-116,20.8,-130,21.3,-133,21.5,-133,20.8,-140,20.5,-154,20.6,-164,20.8,-180,21.4,-197,22,-214,22.6,-244,23.6,-264,25.1,-285,26.7,-295,27.1,-311,28.3,-332,29,-359,29.8,-386,30.5,-389,30.6,-389,28,-400,28.3],
  [99,0.3,-36,12.6,-53,14.5,-59,15.1,-68,17.3,-90,18.8,-110,20.4,-120,20.8,-133,21,-143,20.6,-154,20.8,-177,21.4,-197,22,-217,23,-226,23.1,-226,22,-248,23.1,-254,23.6,-271,25.1,-288,26.7,-295,27.1,-311,28.3,-335,29.8,-355,29.2,-369,29.8,-389,31.4,-400,32.6],
  [99,0.3,-39,12.6,-56,14.5,-63,15.7,-73,17.3,-93,18.8,-113,20.4,-147,20.8,-170,21.4,-190,22,-204,22.6,-217,23.1,-217,22,-244,22.7,-254,23.6,-268,25.1,-285,26.7,-291,27.1,-305,27.7,-325,28.5,-328,28.6,-328,28.2,-362,29.2,-375,29.8,-395,31.4,-400,31.8],
  [99,0.3,-39,12.6,-53,13.4,-68,14.2,-70,14.3,-70,12.6,-103,13.4,-137,14.2,-154,14.5,-174,15.1,-197,15.4,-214,15.7,-241,17.3,-261,18.8,-281,20.3,-288,20.8,-288,21.4,-298,22,-325,22.6,-332,22.7,-332,22,-355,22.6,-365,23.1,-375,23.6,-392,25.1,-400,25.7],
  [100,0.4,-36,12.6,-46,12.8,-63,13.4,-73,14.1,-83,14.5,-87,15.8,-87,12.6,-96,12.8,-123,13.4,-130,13.4,-154,14.1,-167,14.5,-190,15.1,-207,15.7,-234,17.3,-254,18.8,-278,20.4,-295,20.8,-308,21.4,-328,22,-345,23.1,-365,23.6,-386,25.1,-395,26.7,-400,27],
  [100,0.4,-33,12.6,-53,13.4,-73,14.3,-78,14.5,-78,17.9,-96,18.8,-110,20.4,-127,20.8,-128,20.9,-128,18.8,-137,19.1,-154,19.7,-164,20.8,-187,22,-207,23.1,-231,23.1,-244,23.6,-268,25.1,-285,26.7,-295,27.1,-318,28.3,-345,29.8,-369,31.4,-389,33,-400,33.5],
  [100,0.4,-29,12.6,-53,14.1,-70,14.4,-70,17.6,-80,17.8,-96,18.8,-123,19.7,-143,20.4,-157,20.8,-177,22,-187,23.1,-197,23.6,-211,25.1,-216,26.7,-221,27.1,-226,28.3,-238,28.8,-248,29.8,-268,31.4,-285,32.3,-298,33.4,-322,34.6,-345,36.1,-369,37.7,-382,39.3,-395,39.7,-400,40],
  [100,0.4,-29,12.6,-53,14.5,-62,14.6,-62,16.8,-73,17.9,-96,18.8,-130,20.4,-143,20.8,-160,21.4,-174,22.5,-187,23.6,-199,25.1,-206,26.7,-212,27.1,-222,28.3,-234,29.4,-241,29.8,-251,31.4,-271,33,-278,33,-278,31.7,-295,32.3,-301,33.4,-325,34.6,-345,36.1,-362,37.7,-379,39.4,-395,40,-400,40.2],
  [100,0.4,-33,12.6,-46,14.1,-53,14.5,-55,14.6,-55,15.7,-61,17.9,-80,18.8,-100,19.7,-120,20.4,-130,20.8,-143,21.4,-154,22,-160,22.5,-172,23.6,-182,25.1,-190,26.7,-197,27.1,-211,27.7,-219,28.3,-231,29.4,-238,29.8,-251,31.4,-264,33,-271,33.4,-293,33.9,-298,33.4,-325,34.6,-348,36.1,-365,37.7,-379,39.3,-389,39.7,-400,40.2],
  [100,0.4,-36,12.6,-56,14.5,-59,15.7,-64,17.3,-86,18.8,-106,19.7,-127,20.8,-143,22,-157,22.5,-164,23.6,-177,25.1,-190,26.7,-197,27.1,-217,28.3,-227,28.8,-238,29.8,-251,31.4,-264,33,-275,33.4,-295,33.7,-311,34.6,-332,35.7,-345,36.1,-362,37.7,-370,38.4,-370,35.2,-389,36.1,-400,36.8],
  [100,0.4,-39,12.6,-53,14.1,-59,14.5,-66,15.7,-73,17.3,-96,18.8,-113,19.7,-127,20.8,-150,22,-160,23.1,-167,23.6,-177,25.1,-190,26.7,-214,28.3,-227,28.8,-238,29.8,-254,31.4,-268,33,-288,33.4,-308,34,-325,34.6,-345,36.1,-359,37,-362,37.2,-362,35.3,-389,36.1,-400,36.8],
  [100,0.4,-43,12.6,-63,14.5,-70,14.6,-70,12.4,-116,12.9,-130,14.5,-154,16,-164,17.3,-174,18.8,-190,20.4,-214,22,-227,22.5,-238,23.6,-261,25.1,-281,26.7,-295,27.1,-311,28.3,-328,28.8,-345,29.8,-352,30.4,-352,28.8,-375,29.4,-389,29.8,-400,30.5],
  [100,0.4,-36,12.6,-63,14.1,-80,14.5,-90,15.7,-96,17.3,-110,18.8,-120,19.7,-130,20.8,-150,22,-164,23.6,-174,25.1,-190,26.7,-214,28.3,-238,29.8,-261,31.4,-281,33,-291,33.4,-311,34.6,-332,35.7,-348,36.1,-356,37,-356,34.6,-375,35.1,-395,36.1,-400,36.6],
  [100,0.4,-39,12.6,-66,14.1,-86,14.5,-95,14.6,-95,12.6,-123,13.4,-133,14.5,-150,15.7,-164,17.3,-177,18.8,-190,20.4,-197,20.8,-217,22,-238,23.6,-261,25.1,-285,26.7,-295,27.1,-315,28.3,-335,29.4,-355,29.5,-365,29.8,-382,30.5,-395,31.4,-400,31.9],
  [100,0.4,-33,12.6,-56,13.4,-90,14.1,-93,14.2,-93,12.8,-123,13.4,-133,14.5,-154,15.7,-167,17.3,-180,18.8,-194,20.4,-201,20.8,-217,22,-241,23.6,-261,25.1,-281,26.7,-295,27.1,-315,28.3,-335,29.4,-355,29.5,-365,29.8,-386,31.4,-400,33],
  [100,0.4,-33,12.6,-53,14.1,-58,14.3,-58,12.2,-83,12.6,-113,13.4,-130,14.1,-140,14.5,-160,15.7,-177,17.3,-190,18.8,-201,20.8,-217,22,-231,23.1,-238,23.6,-258,25.1,-275,26.7,-288,27.1,-301,27.7,-328,28.8,-342,29.7,-365,29.9,-389,31.4,-397,33,-400,33.2],
  [100,0.4,-33,12.6,-46,13.4,-53,13.6,-53,12.4,-70,12.8,-96,13.4,-116,14.5,-137,14.2,-150,14.5,-160,15.1,-174,15.7,-190,17.3,-204,18.8,-209,20.4,-212,20.8,-221,22,-227,23.1,-234,23.6,-254,25.1,-268,26.7,-285,27.1,-305,27.7,-322,28.3,-338,29.8,-355,31.4,-372,33.4,-379,34.6,-392,35.7,-400,36],
  [100,0.4,-36,12.6,-49,13.4,-56,13.6,-56,12.4,-73,12.8,-100,13.4,-113,14.1,-125,14.3,-125,13.2,-137,13.4,-150,14.1,-160,14.5,-177,15.7,-194,16.2,-211,17.3,-221,16.8,-234,17.3,-251,18.8,-275,20.8,-295,21.4,-315,22,-335,23.6,-355,25.1,-372,26.8,-379,27.4,-392,28.8,-400,29.2],
  [100,0.4,-36,12.6,-53,14.5,-63,15.7,-68,17.3,-86,18.8,-106,20.4,-116,20.8,-132,21,-137,21.2,-137,19.6,-154,20.4,-164,21.4,-180,22,-197,22.6,-214,22.7,-224,23.1,-234,23.6,-251,25.1,-268,26.7,-281,27.1,-301,28.3,-328,29.4,-345,29.8,-386,30.5,-400,30.6],
  [100,0.4,-36,12.6,-59,14.5,-66,15.7,-75,17.3,-93,18.8,-116,20.4,-137,20.8,-143,20.9,-157,21.4,-177,22,-194,22.5,-194,21.3,-197,21.4,-217,22,-238,23.6,-254,25.1,-271,26.7,-281,27.1,-301,28.3,-332,29.8,-348,31.4,-360,33.1,-360,33.4,-375,34.6,-395,36.1,-400,36.7],
  [100,0.4,-39,12.6,-66,14.5,-76,15.7,-85,17.3,-100,18.8,-127,20.4,-154,20.8,-170,21.4,-190,22.3,-197,22.6,-197,20.8,-221,22,-244,23.6,-261,25.1,-278,26.7,-288,27.1,-305,28.3,-335,29.8,-352,31.4,-365,33.4,-382,34.6,-395,36.1,-400,36.5],
  [100,0.4,-39,12.6,-56,14.1,-73,14.5,-80,14.6,-80,17.3,-96,18.8,-130,19,-143,19.7,-160,20.8,-177,21.4,-194,22,-224,22.6,-251,23.6,-271,25.1,-285,26.7,-295,27.1,-315,28.3,-338,29.8,-352,31.4,-369,33.4,-382,34.6,-397,36.1,-400,36.4],
  [100,0.4,-33,12.6,-56,14.1,-70,14.3,-73,14.4,-73,11.6,-103,12.6,-130,13.4,-147,14.5,-170,15.1,-197,15.7,-241,17.3,-261,18.8,-278,20.4,-288,20.8,-301,21.4,-315,22,-338,23.6,-352,25.1,-369,27,-379,28.3,-392,28.8,-400,29.5],
  [100,0.4,-36,12.6,-53,14.5,-59,15.7,-66,17.3,-86,18.8,-110,20.4,-123,20.8,-160,21,-174,21.1,-190,21.4,-204,22,-221,23.1,-234,23.6,-258,25.1,-275,26.7,-288,27.1,-305,27.7,-325,28.5,-338,29.8,-348,31.4,-360,33,-372,34.6,-395,36.1,-400,36.4],
  [100,0.5,-29,12.6,-44,14.1,-49,14.5,-51,14.6,-51,16.8,-55,17.3,-80,18.8,-103,20.8,-113,21.2,-136,21.7,-136,19.6,-140,19.7,-154,20.4,-170,20.8,-197,22,-217,23.1,-231,23.6,-258,25.1,-275,26.7,-285,27.1,-311,28.3,-335,29.4,-342,29.8,-355,31.4,-369,33.4,-375,34.6,-392,36.1,-394,36.3,-394,33.4,-400,33.5],
  [100,0.5,-33,12.6,-49,13.4,-53,13.4,-53,12.6,-63,12.6,-83,13.4,-96,14.5,-113,15.1,-117,15.3,-117,13.4,-147,14.1,-160,14.5,-184,15.1,-207,15.7,-231,17.3,-254,18.8,-275,20.4,-288,20.8,-305,22,-338,23.6,-352,25.1,-375,26.8,-400,27.7],
  [100,0.5,-39,12.6,-53,14.5,-70,15.7,-80,17.3,-96,18.8,-120,20.4,-154,20.5,-160,20.8,-184,21.4,-214,22,-234,23.6,-251,25.1,-275,26.8,-295,27.7,-315,28.3,-338,29.8,-355,31.4,-369,33.4,-386,34.6,-400,35.7],
  [100,0.5,-36,12.6,-56,14.5,-63,15.7,-73,16.8,-83,17.3,-96,18.8,-116,20.4,-147,20.8,-180,21,-197,21.4,-214,22,-234,23.6,-254,25.1,-268,26.7,-278,27.4,-298,27.7,-318,28.3,-332,29.8,-348,31.4,-355,31.7,-355,28.9,-359,28.6,-375,29.2,-392,29.8,-400,30.5],
  [100,0.5,-33,12.6,-46,14.5,-59,15.7,-76,17.3,-93,18.8,-116,20.4,-127,20.8,-137,20.9,-154,20.4,-170,20.4,-184,20.8,-211,22,-227,23.1,-238,23.6,-254,25.1,-268,26.7,-281,27.5,-305,28.3,-332,29.3,-348,29.6,-348,28.3,-365,29.3,-382,29.8,-400,30.6],
  [100,0.5,-29,12.6,-43,14.5,-53,15.7,-70,17.3,-86,18.8,-110,20.4,-130,20.8,-141,21,-143,19.2,-170,20.4,-184,20.8,-201,21.4,-214,22,-231,23.6,-251,25.1,-268,26.7,-278,27.1,-295,28.3,-306,29.4,-310,29.5,-310,27.1,-332,28.3,-355,29.8,-375,31.4,-392,33,-400,33.5],
  [100,0.5,-26,12.6,-39,14.1,-49,15.7,-66,17.3,-83,18.8,-103,20.4,-123,20.8,-137,21,-140,20.4,-160,20.8,-177,21.4,-197,22,-224,23.1,-238,23.6,-258,25.1,-275,26.7,-281,27.1,-298,28.3,-308,28.8,-312,29,-312,27.2,-335,28.3,-359,29.8,-375,31.4,-389,33.4,-400,34],
  [100,0.5,-26,12.6,-36,14.1,-46,15.7,-66,17.3,-83,18.8,-106,20.4,-120,20.8,-133,21,-133,20.4,-154,20.8,-174,21.4,-190,22,-199,22.4,-199,21.4,-221,22,-238,23.6,-254,25.1,-271,26.7,-281,27.1,-298,27.7,-315,28.8,-318,29,-318,27.7,-335,28.3,-362,29.8,-379,31.4,-392,33.4,-400,34],
  [100,0.5,-26,12.6,-39,14.1,-53,15.7,-63,17.3,-83,18.8,-103,20.4,-123,21.2,-131,21.5,-134,20.4,-157,20.8,-174,21.4,-190,22.6,-197,23.1,-200,23.2,-200,21.4,-221,22,-241,23.6,-261,25.1,-275,26.7,-281,27.1,-295,27.7,-308,28.3,-322,29.8,-330,31.4,-331,31.8,-331,33,-348,34.6,-369,36.1,-389,37.7,-395,39.3,-400,39.6],
  [100,0.5,-26,12.6,-39,14.1,-49,15.7,-66,17.3,-83,18.8,-103,20.4,-123,20.8,-154,21,-170,21.4,-187,22,-197,22.5,-197,21.4,-221,22,-238,23.6,-258,25.1,-275,26.7,-288,27.1,-301,28.3,-315,29.4,-322,29.8,-330,31.4,-332,31.7,-332,28.3,-352,29.4,-372,29.8,-392,31.4,-400,32],
  [100,0.5,-29,12.6,-43,14.5,-56,15.7,-70,17.3,-86,18.8,-110,20.4,-130,21.2,-140,21.4,-140,20.3,-157,20.8,-177,21.4,-194,22.2,-201,22.5,-201,21.4,-221,22,-241,23.6,-258,25.1,-275,26.7,-285,27.1,-301,28.3,-328,29.4,-332,29.5,-332,28.3,-355,28.9,-372,29.8,-392,31.4,-400,32],
  [100,0.5,-33,12.6,-46,14.5,-59,15.7,-73,17.3,-93,18.8,-113,20.4,-137,20.8,-154,20.5,-170,20.8,-197,22,-217,23.1,-234,23.6,-254,25.1,-271,26.7,-285,27.1,-301,28.3,-311,29.4,-322,29.8,-330,30.2,-330,28.3,-355,29,-372,29.8,-392,31.4,-400,32],
  [100,0.5,-36,12.6,-59,14.5,-73,15.7,-90,17.3,-110,18.8,-137,19.7,-164,20.8,-174,21.4,-197,21.6,-197,20.8,-217,21.4,-227,22,-234,23.1,-244,23.6,-264,25.1,-281,26.7,-298,27.7,-311,28.3,-332,28.8,-348,29.8,-365,31.4,-372,32.3,-377,32.5,-377,28.8,-400,29.4],
  [100,0.5,-39,12.6,-63,14.1,-76,14.5,-90,15.7,-103,17.3,-127,18.8,-154,20.8,-174,21.4,-190,20.8,-214,21.4,-231,22,-248,23.6,-264,25.1,-281,26.7,-305,27.7,-325,28.3,-352,29.8,-379,31.4,-395,33.4,-400,33.7],
  [100,0.5,-33,12.6,-53,14.1,-63,14.4,-63,12.6,-86,13.4,-103,14.5,-113,15.7,-120,17.3,-123,17.5,-123,18.8,-143,19.7,-157,20.8,-170,21.4,-180,21.5,-184,22,-197,21.4,-204,20.8,-234,22,-254,23.6,-271,25.1,-288,26.8,-311,27.7,-328,28.3,-355,29.8,-372,31.4,-392,33,-400,33.5],
  [100,0.5,-29,12.6,-51,14.5,-59,15.7,-66,17.3,-86,18.8,-110,20.4,-127,20.8,-127,19.7,-147,20.4,-167,21.4,-187,22,-207,21.4,-231,22,-251,23.6,-275,25.1,-295,26.8,-325,28.3,-355,29.8,-369,31.4,-389,33.4,-400,34],
  [100,0.6,-26,12.6,-59,14.5,-71,15.7,-76,16,-76,17.9,-93,18.8,-120,19.7,-150,20.8,-174,21.4,-190,22,-214,22.1,-248,23.6,-271,25.1,-301,26.8,-328,28.3,-348,29.8,-365,31.4,-382,33,-400,34.6],
]

// colour map
const mapPhase = [-3.1416, -2.9, -2.5, -2.1, -1.9, -1.6, -1.3, -1, -0.5, -0.1, 0.1, 0.5, 0.9, 1.1, 1.5, 1.85, 2.2, 2.7, 3.1416]
const mapColor = [
  '#f455ef', '#fc74d4', '#fca0a8', '#fcc68a', '#fbda68', '#f0eb30', '#d8ec18', '#aeda10', '#78c80c', '#40b414',
  '#35a638', '#4a8c70', '#3e70a8', '#3058c0', '#2a25e6', '#4a18f5', '#7a30f8', '#b844fc', '#ee50f8',
]

const yMajor = [1, 1.5, 2, 2.5]
const yMajorLabels = ['1.0', '1.5', '2.0', '2.5']
const yMinor = [0.9, 1.1, 1.2, 1.3, 1.4, 1.6, 1.7, 1.8, 1.9, 2.1, 2.2, 2.3, 2.4]
const zMajor = [0, -0.2, -0.4]
const zMajorLabels = ['0.0', '\u22120.2', '\u22120.4']
const zMinor = [0.05, -0.05, -0.1, -0.15, -0.25, -0.3, -0.35]
const barTicks = [3, 2, 1, 0, -1, -2, -3]
const barTickLabels = ['3', '2', '1', '0', '\u22121', '\u22122', '\u22123']

// black brackets under the plots
const bracketStart = [0.9037, 1.453, 2.103]
const bracketEnd = [1.1465, 1.796, 2.397]
const bracketZ = -0.4036
const bracketTop = -0.378
const bracketBottom = -0.431

const mapRgb = mapColor.map((c) => [1, 3, 5].map((i) => parseInt(c.slice(i, i + 2), 16)))

function phaseColor(p: number) {
  const w = p - 2 * Math.PI * Math.floor((p + Math.PI) / (2 * Math.PI))
  let i = 0
  while (i < mapPhase.length - 2 && w > mapPhase[i + 1]) i++
  const t = Math.min(1, Math.max(0, (w - mapPhase[i]) / (mapPhase[i + 1] - mapPhase[i])))
  const c = mapRgb[i].map((v, k) => Math.round(v + (mapRgb[i + 1][k] - v) * t))
  return `rgb(${c[0]},${c[1]},${c[2]})`
}

// a bar's fill runs through the colour map between the phases at its two ends
function rampFill(ctx: any) {
  const bar = ctx.raw
  if (!bar || !bar.p) return 'transparent'
  const yScale = ctx.chart.scales.y
  const y0 = yScale.getPixelForValue(bar.z[0])
  const y1 = yScale.getPixelForValue(bar.z[1])
  // scales have no pixels yet on the first pass
  if (!Number.isFinite(y0) || !Number.isFinite(y1)) return 'transparent'
  const g = ctx.chart.ctx.createLinearGradient(0, y0, 0, y1)
  const dp = bar.p[1] - bar.p[0]
  const n = Math.max(2, Math.ceil(Math.abs(dp) / 0.1) + 1)
  for (let i = 0; i < n; i++) g.addColorStop(i / (n - 1), phaseColor(bar.p[0] + (dp * i) / (n - 1)))
  return g
}

function columnBars(columns: number[][]) {
  const bars: any[] = []
  columns.forEach((nodes, c) => {
    for (let i = 0; i + 3 < nodes.length; i += 2) {
      if (nodes[i] === nodes[i + 2]) continue
      const top = nodes[i] / 1000
      const bottom = nodes[i + 2] / 1000
      bars.push({ x: yColumns[c], y: [bottom, top], z: [top, bottom], p: [nodes[i + 1], nodes[i + 3]] })
    }
  })
  return bars
}

function bracketLines() {
  const lines: any[] = []
  const line = (data: any[], borderWidth: number) =>
    lines.push({ type: 'line', data, borderColor: '#000', borderWidth, pointRadius: 0, clip: false, order: 0 })
  bracketStart.forEach((start, i) => {
    line([{ x: start, y: bracketZ }, { x: bracketEnd[i], y: bracketZ }], 13)
    line([{ x: start, y: bracketTop }, { x: start, y: bracketBottom }], 10)
    line([{ x: bracketEnd[i], y: bracketTop }, { x: bracketEnd[i], y: bracketBottom }], 10)
  })
  return lines
}

// tick labels hanging over the plot ends must not push the plot area in
function dropPadding(s: any) {
  s.paddingLeft = 0
  s.paddingRight = 0
  s.paddingTop = 0
  s.paddingBottom = 0
}

const panelFrame = {
  id: 'panelFrame',
  afterDatasetsDraw(chart: any) {
    const { ctx, chartArea: a, scales } = chart
    ctx.save()
    ctx.fillStyle = '#000'
    const xTick = (v: number, w: number, len: number) => {
      const px = scales.x.getPixelForValue(v)
      ctx.fillRect(px - w / 2, a.top, w, len)
      ctx.fillRect(px - w / 2, a.bottom - len, w, len)
    }
    const yTick = (v: number, w: number, len: number) => {
      const py = scales.y.getPixelForValue(v)
      ctx.fillRect(a.left, py - w / 2, len, w)
      ctx.fillRect(a.right - len, py - w / 2, len, w)
    }
    yMinor.forEach((v) => xTick(v, 2, 23))
    yMajor.forEach((v) => xTick(v, 7, 36))
    zMinor.forEach((v) => yTick(v, 2.5, 23))
    zMajor.forEach((v) => yTick(v, 5.5, 35))
    ctx.strokeStyle = '#000'
    ctx.lineWidth = 4
    ctx.strokeRect(a.left, a.top, a.right - a.left, a.bottom - a.top)
    ctx.restore()
  },
}

const barFrame = {
  id: 'barFrame',
  afterDatasetsDraw(chart: any) {
    const { ctx, chartArea: a, scales } = chart
    ctx.save()
    ctx.fillStyle = '#000'
    barTicks.forEach((v) => ctx.fillRect(a.left, scales.y.getPixelForValue(v) - 3.5, a.right - a.left, 7))
    ctx.strokeStyle = '#000'
    ctx.lineWidth = 4
    ctx.strokeRect(a.left, a.top, a.right - a.left, a.bottom - a.top)
    // the library only rotates a right-hand title downwards
    ctx.translate(283, (a.top + a.bottom) / 2)
    ctx.rotate(-Math.PI / 2)
    ctx.fillStyle = '#000'
    ctx.font = `94px "${FONT}"`
    ctx.textAlign = 'center'
    ctx.textBaseline = 'middle'
    ctx.fillText('phase in rad', 0, 0)
    ctx.restore()
  },
}

function HeatPanel({ columns, top }: { columns: number[][]; top: number }) {
  const ref = useRef<HTMLCanvasElement>(null)

  useEffect(() => {
    if (!ref.current) return
    const chart = new Chart(ref.current, {
      type: 'bar',
      data: {
        datasets: [
          {
            data: columnBars(columns),
            backgroundColor: rampFill,
            borderWidth: 0,
            barThickness: 41.5,
            inflateAmount: 0.5,
            order: 1,
          } as any,
          ...bracketLines(),
        ],
      },
      options: {
        animation: false,
        responsive: false,
        devicePixelRatio: 1,
        events: [],
        layout: { autoPadding: false, padding: { top: 54, right: 74, left: 0, bottom: 0 } },
        plugins: { legend: { display: false }, tooltip: { enabled: false } },
        scales: {
          x: {
            type: 'linear',
            min: 0.8,
            max: 2.5,
            offset: false,
            grid: { display: false, drawTicks: false },
            border: { display: false },
            afterBuildTicks: (s: any) => { s.ticks = yMajor.map((value) => ({ value })) },
            afterFit: (s: any) => { s.height = 453; dropPadding(s) },
            ticks: {
              autoSkip: false,
              maxRotation: 0,
              padding: 55,
              color: '#000',
              font: { family: FONT, size: 86 },
              callback: (_v: any, i: number) => yMajorLabels[i],
            },
            title: { display: true, text: 'y in m', color: '#000', font: { family: FONT, size: 90 }, padding: { top: 0, bottom: 173 } },
          },
          y: {
            type: 'linear',
            min: -0.4,
            max: 0.1,
            grid: { display: false, drawTicks: false },
            border: { display: false },
            afterBuildTicks: (s: any) => { s.ticks = zMajor.map((value) => ({ value })) },
            afterFit: (s: any) => { s.width = 353; dropPadding(s) },
            ticks: {
              autoSkip: false,
              padding: 32,
              color: '#000',
              font: { family: FONT, size: 86 },
              callback: (_v: any, i: number) => zMajorLabels[i],
            },
            title: { display: true, text: 'z in m', color: '#000', font: { family: FONT, size: 90 }, padding: { top: 19, bottom: 0 } },
          },
        },
      } as any,
      plugins: [panelFrame],
    })
    return () => chart.destroy()
  }, [columns])

  return <canvas ref={ref} width={2780} height={1200} style={{ position: 'absolute', left: 0, top }} />
}

function PhaseBar({ top }: { top: number }) {
  const ref = useRef<HTMLCanvasElement>(null)

  useEffect(() => {
    if (!ref.current) return
    const chart = new Chart(ref.current, {
      type: 'bar',
      data: {
        datasets: [
          {
            data: [{ x: 0, y: [-Math.PI, Math.PI], z: [Math.PI, -Math.PI], p: [Math.PI, -Math.PI] }],
            backgroundColor: rampFill,
            borderWidth: 0,
            barThickness: 70,
          } as any,
        ],
      },
      options: {
        animation: false,
        responsive: false,
        devicePixelRatio: 1,
        events: [],
        layout: { autoPadding: false, padding: { top: 54, left: 22, right: 133, bottom: 453 } },
        plugins: { legend: { display: false }, tooltip: { enabled: false } },
        scales: {
          x: { type: 'linear', min: -1, max: 1, offset: false, display: false },
          y: {
            type: 'linear',
            position: 'right',
            min: -Math.PI,
            max: Math.PI,
            grid: { display: false, drawTicks: false },
            border: { display: false },
            afterBuildTicks: (s: any) => { s.ticks = barTicks.map((value) => ({ value })) },
            afterFit: (s: any) => { s.width = 142; dropPadding(s) },
            ticks: {
              autoSkip: false,
              crossAlign: 'far',
              color: '#000',
              font: { family: FONT, size: 86 },
              callback: (_v: any, i: number) => barTickLabels[i],
            },
          },
        },
      } as any,
      plugins: [barFrame],
    })
    return () => chart.destroy()
  }, [])

  return <canvas ref={ref} width={367} height={1200} style={{ position: 'absolute', left: 2740, top }} />
}

function Caption({ letter, text, y }: { letter: string; text: string; y: number }) {
  return (
    <div
      style={{
        position: 'absolute',
        left: 0,
        width: 3134,
        top: y - 50,
        lineHeight: '100px',
        textAlign: 'center',
        fontFamily: FONT,
        fontSize: 76,
        color: '#000',
      }}
    >
      (<b>{letter}</b>) {text}
    </div>
  )
}

export default function App() {
  return (
    <div style={{ position: 'absolute', left: 0, top: 0, width: 3107, height: 2383, background: '#fff', overflow: 'hidden' }}>
      <HeatPanel columns={phaseA} top={0} />
      <PhaseBar top={0} />
      <Caption letter="a" text="x = 4.0 m" y={1121} />
      <HeatPanel columns={phaseB} top={1203} />
      <PhaseBar top={1203} />
      <Caption letter="b" text="x = 4.09 m" y={2322} />
    </div>
  )
}
